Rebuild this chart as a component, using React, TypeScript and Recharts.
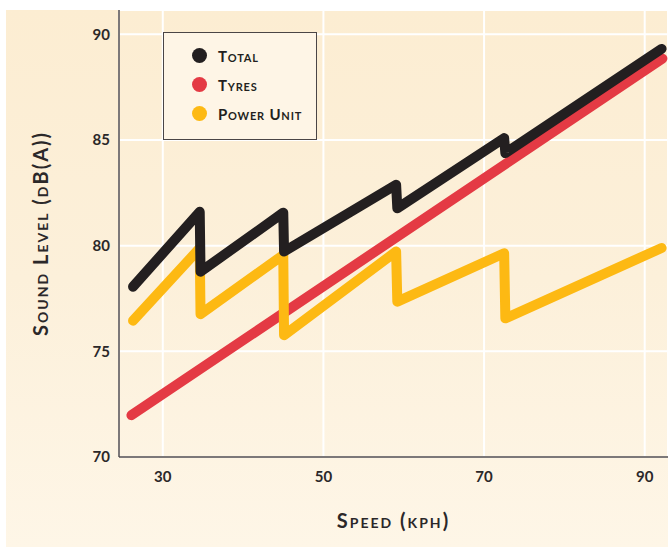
import { LineChart, Line, XAxis, YAxis, CartesianGrid, Label } from 'recharts';

const totalSpeed = [26.3, 34.6, 34.7, 45.0, 45.1, 59.05, 59.2, 72.5, 72.65, 92.1]
const totalLevel = [78.06, 81.6, 78.77, 81.56, 79.72, 82.88, 81.77, 85.09, 84.38, 89.31]

const tyresSpeed = [26.1, 92.2]
const tyresLevel = [71.98, 88.85]

const powerSpeed = [26.3, 34.6, 34.7, 45.0, 45.1, 59.05, 59.2, 72.5, 72.65, 92.1]
const powerLevel = [76.45, 79.88, 76.76, 79.56, 75.76, 79.72, 77.35, 79.64, 76.56, 79.89]

const xTicks = [30, 50, 70, 90]
const yTicks = [70, 75, 80, 85, 90]

const series = [
    { name: 'Total', color: '#231F20' },
    { name: 'Tyres', color: '#E43A44' },
    { name: 'Power Unit', color: '#FDB913' },
]

const toPoints = (xs: number[], ys: number[]) => xs.map((x, i) => ({ speed: x, level: ys[i] }))

const FONT = 'Lato, "Open Sans", sans-serif'

function LegendBox() {
    return (
        <div style={{
            position: 'absolute', left: 163, top: 32,
            width: 154, height: 108, boxSizing: 'border-box',
            border: '1.5px solid #4a4546', background: '#FEF5E6',
            padding: '8px 0 0 28px', fontFamily: FONT
        }}>
            {series.map(s => (
                <div key={s.name} style={{ display: 'flex', alignItems: 'center', height: 29 }}>
                    <span style={{
                        width: 15, height: 15, borderRadius: '50%', background: s.color,
                        display: 'inline-block', marginRight: 11
                    }} />
                    <span style={{
                        fontVariant: 'small-caps', fontWeight: 700, fontSize: 15,
                        letterSpacing: 0.8, color: '#231F20'
                    }}>{s.name}</span>
                </div>
            ))}
        </div>
    )
}

export default function App() {
    const tickStyle = { fill: '#2B2829', fontSize: 15, fontWeight: 700, fontFamily: FONT }
    const titleStyle = { fontVariant: 'small-caps', fontWeight: 700, fontSize: 20, letterSpacing: 2, fill: '#2B2829', fontFamily: FONT }

    return (
        <div style={{ position: 'absolute', left: 0, top: 0, width: 668, height: 547 }}>
            <div style={{
                position: 'absolute', left: 6, top: 10, width: 662, height: 537,
                background: 'linear-gradient(180deg, #FCEDD2 0%, #FCF0DA 50%, #FEF6E7 100%)'
            }} />
            <LineChart
                width={668}
                height={547}
                margin={{ top: 10, right: 0, left: 0, bottom: 0 }}
                style={{ position: 'absolute', left: 0, top: 0 }}
            >
                <CartesianGrid stroke="#ffffff" strokeWidth={2} />
                <XAxis
                    type="number"
                    dataKey="speed"
                    domain={[24.55, 92.9]}
                    ticks={xTicks}
                    allowDataOverflow
                    height={90}
                    tickLine={false}
                    axisLine={{ stroke: '#514b4c', strokeWidth: 1.5 }}
                    tick={tickStyle}
                    tickMargin={8}
                >
                    <Label value="Speed (kph)" position="insideBottom" offset={19} style={titleStyle} />
                </XAxis>
                <YAxis
                    type="number"
                    domain={[70, 91.15]}
                    ticks={yTicks}
                    allowDataOverflow
                    width={119}
                    tickLine={false}
                    axisLine={{ stroke: '#514b4c', strokeWidth: 1.5 }}
                    tick={tickStyle}
                    tickMargin={3}
                >
                    <Label
                        value="Sound Level (dB(A))"
                        angle={-90}
                        position="insideLeft"
                        offset={41}
                        style={{ ...titleStyle, textAnchor: 'middle' }}
                    />
                </YAxis>
                <Line
                    data={toPoints(tyresSpeed, tyresLevel)}
                    dataKey="level"
                    name="Tyres"
                    stroke="#E43A44"
                    strokeWidth={10}
                    strokeLinecap="round"
                    strokeLinejoin="round"
                    dot={false}
                    activeDot={false}
                    isAnimationActive={false}
                />
                <Line
                    data={toPoints(powerSpeed, powerLevel)}
                    dataKey="level"
                    name="Power Unit"
                    stroke="#FDB913"
                    strokeWidth={10}
                    strokeLinecap="round"
                    strokeLinejoin="round"
                    dot={false}
                    activeDot={false}
                    isAnimationActive={false}
                />
                <Line
                    data={toPoints(totalSpeed, totalLevel)}
                    dataKey="level"
                    name="Total"
                    stroke="#231F20"
                    strokeWidth={10}
                    strokeLinecap="round"
                    strokeLinejoin="round"
                    dot={false}
                    activeDot={false}
                    isAnimationActive={false}
                />
            </LineChart>
            <LegendBox />
        </div>
    )
}
